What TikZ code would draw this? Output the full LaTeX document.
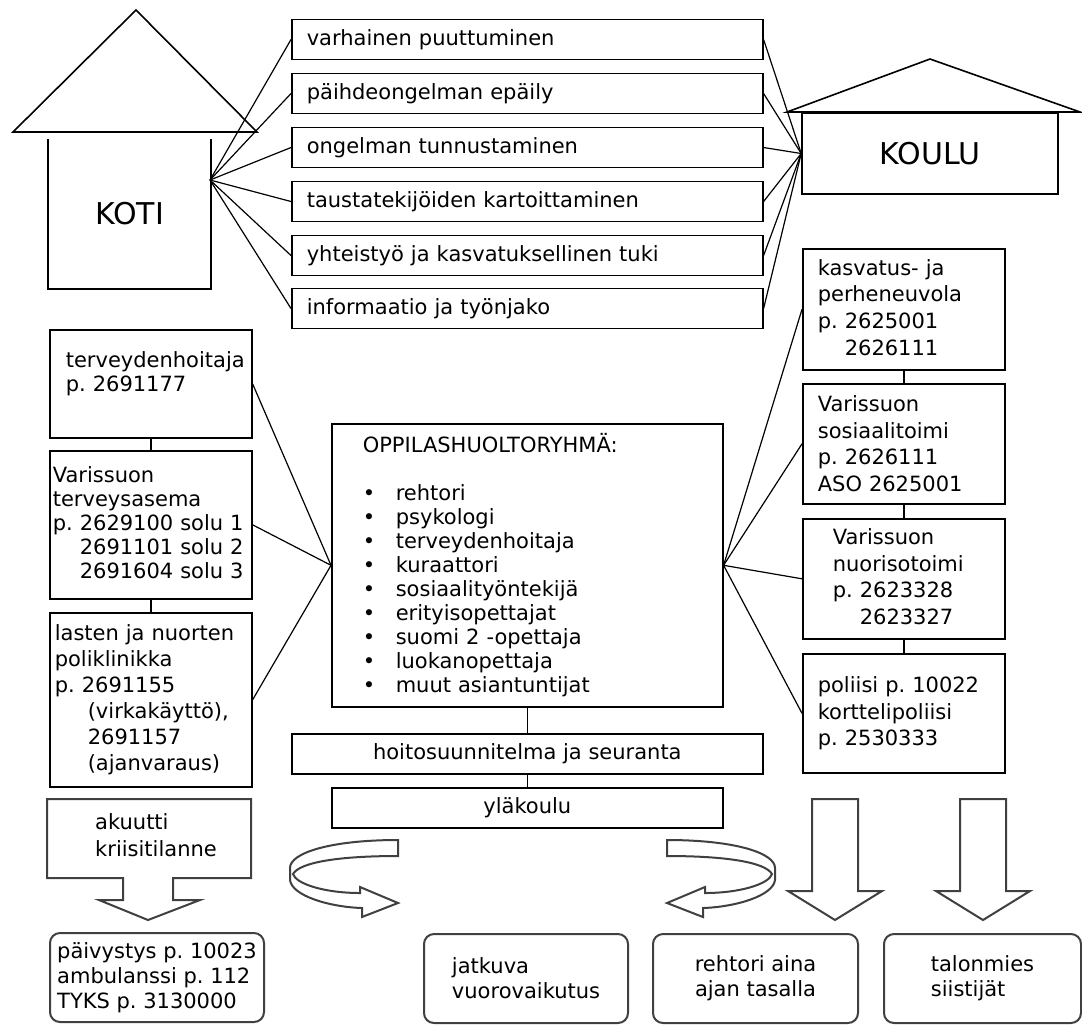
\documentclass[tikz,border=0pt]{standalone}
\usepackage{fontspec}
\setmainfont{DejaVu Sans}
\frenchspacing

\begin{document}
\begin{tikzpicture}[x=0.5pt,y=-0.5pt,line width=0.8pt,font=\fontsize{10.5}{12}\selectfont]
    \tikzstyle{box}=[rectangle,draw=black,inner ysep=0pt,align=left]
    \tikzstyle{wire}=[line width=0.6pt]
    \tikzstyle{soft}=[rectangle,rounded corners=5pt,draw=black!75,line width=1pt,minimum height=44.5pt,align=left,anchor=north west,font=\fontsize{10.5}{12.5}\selectfont]
    \tikzstyle{block}=[draw=black!75,line width=1pt,fill=white]
    \tikzstyle{big}=[font=\fontsize{15}{18}\selectfont]

    \useasboundingbox[fill=white] (0,0) rectangle (1082,1025);

    \draw (13,132) -- (136,10) -- (257,132) -- cycle;
    \node[big,minimum width=80.5pt,minimum height=74pt] (koti) at (129.5,214) {KOTI};
    \draw (koti.north west) -- (koti.south west) -- (koti.south east) -- (koti.north east);
    \coordinate (kotihub) at (210,180);

    \draw (787,112) -- (930,59) -- (1080,112) -- cycle;
    \node[box,big,minimum width=128pt,minimum height=40.5pt] (koulu) at (930,153.5) {KOULU};

    \foreach \num/\y/\txt in {1/39.5/varhainen puuttuminen, 2/93.5/päihdeongelman epäily,
                              3/147.5/ongelman tunnustaminen, 4/201.5/taustatekijöiden kartoittaminen,
                              5/255.5/yhteistyö ja kasvatuksellinen tuki, 6/308.5/informaatio ja työnjako}
        \node[box,anchor=west,text width=220.5pt,inner xsep=7.5pt,minimum height=20pt] (teht-\num) at (291,\y) {\txt};

    \foreach \num in {1,...,6}
        \draw[wire] (kotihub) -- (teht-\num.west) (teht-\num.east) -- (koulu.west);

    \node[box,anchor=north west,text width=85pt,inner xsep=8pt,minimum height=54pt] (terv) at (49,329)
        {terveydenhoitaja\\p. 2691177\\\mbox{}};
    \node[box,anchor=north west,text width=98pt,inner xsep=1.5pt,minimum height=74pt] (asema) at (49,450)
        {Varissuon\\terveysasema\\p. 2629100 solu 1\\\phantom{p. }2691101 solu 2\\\phantom{p. }2691604 solu 3};
    \node[box,anchor=north west,text width=96pt,inner xsep=2.5pt,minimum height=87pt,font=\fontsize{10.5}{13}\selectfont] (poli) at (49,612)
        {lasten ja nuorten\\poliklinikka\\p. 2691155\\\hspace*{16.5pt}(virkakäyttö),\\\hspace*{16.5pt}2691157\\\hspace*{16.5pt}(ajanvaraus)};
    \draw (terv.south) -- (asema.north);
    \draw (asema.south) -- (poli.north);

    \node[box,anchor=north west,text width=86pt,inner xsep=7.5pt,minimum height=60.5pt,font=\fontsize{10.5}{13.3}\selectfont] (kasv) at (802,248)
        {kasvatus- ja\\perheneuvola\\p. 2625001\\\phantom{p. }2626111};
    \node[box,anchor=north west,text width=86pt,inner xsep=7.5pt,minimum height=60pt,font=\fontsize{10.5}{13.3}\selectfont] (sosi) at (802,383)
        {Varissuon\\sosiaalitoimi\\p. 2626111\\ASO 2625001};
    \node[box,anchor=north west,text width=71pt,inner xsep=15pt,minimum height=60pt,font=\fontsize{10.5}{13.3}\selectfont] (nuor) at (802,518)
        {Varissuon\\nuorisotoimi\\p. 2623328\\\phantom{p. }2623327};
    \node[box,anchor=north west,text width=86pt,inner xsep=7.5pt,minimum height=59.5pt,font=\fontsize{10.5}{13.3}\selectfont] (pol) at (802,653)
        {poliisi p. 10022\\korttelipoliisi\\p. 2530333};
    \draw (kasv.south) -- (sosi.north);
    \draw (sosi.south) -- (nuor.north);
    \draw (nuor.south) -- (pol.north);

    \node[box,anchor=north west,text width=164.5pt,inner xsep=15.5pt,minimum height=141.5pt] (oppi) at (331,423)
        {OPPILASHUOLTORYHMÄ:\\\mbox{}\\
         \makebox[16.5pt][l]{\textbullet}rehtori\\
         \makebox[16.5pt][l]{\textbullet}psykologi\\
         \makebox[16.5pt][l]{\textbullet}terveydenhoitaja\\
         \makebox[16.5pt][l]{\textbullet}kuraattori\\
         \makebox[16.5pt][l]{\textbullet}sosiaalityöntekijä\\
         \makebox[16.5pt][l]{\textbullet}erityisopettajat\\
         \makebox[16.5pt][l]{\textbullet}suomi 2 -opettaja\\
         \makebox[16.5pt][l]{\textbullet}luokanopettaja\\
         \makebox[16.5pt][l]{\textbullet}muut asiantuntijat};
    \node[box,anchor=north west,align=center,minimum width=235.5pt,minimum height=20pt] (hoito) at (291,733) {hoitosuunnitelma ja seuranta};
    \node[box,anchor=north west,align=center,minimum width=195.5pt,minimum height=20pt] (yla) at (331,787) {yläkoulu};
    \draw (oppi.south) -- (hoito.north);
    \draw (hoito.south) -- (yla.north);

    \foreach \n in {terv,asema,poli}
        \draw[wire] (\n.east) -- (oppi.west);
    \foreach \n in {kasv,sosi,nuor,pol}
        \draw[wire] (oppi.east) -- (\n.west);

    \draw[block] (47,799) -- (251,799) -- (251,878) -- (173,878) -- (173,900) -- (200,900) -- (148,920)
        -- (99,900) -- (123,900) -- (123,878) -- (47,878) -- cycle;
    \node[align=left,font=\fontsize{10.5}{13.5}\selectfont] (akuutti) at (156,835) {akuutti\\kriisitilanne};

    \foreach \s in {1,-1}
        \draw[block,shift={(532.5,0)},xscale=\s,shift={(-532.5,0)}]
            (398,840) .. controls (330,840) and (290,853) .. (290,868) -- (290,880)
            .. controls (292,896) and (330,907) .. (362,908) -- (362,917) -- (398,903) -- (360,887) -- (360,893)
            .. controls (325,893) and (296,884) .. (293,874) .. controls (300,862) and (340,856) .. (398,856) -- cycle;

    \foreach \x in {835,983}
        \draw[block] ({\x-23},799) -- ({\x+23},799) -- ({\x+23},891) -- ({\x+47},891) -- (\x,920)
            -- ({\x-47},891) -- ({\x-23},891) -- cycle;

    \node[soft,minimum width=107pt] (paiv) at (49,932) {päivystys p. 10023\\ambulanssi p. 112\\TYKS p. 3130000};
    \node[soft,minimum width=102pt] (jatk) at (423,933) {jatkuva\\vuorovaikutus};
    \node[soft,align=center,minimum width=102.5pt] (reht) at (652,933) {rehtori aina\\ajan tasalla};
    \node[soft,minimum width=98.5pt] (talo) at (883,933) {talonmies\\siistijät};
\end{tikzpicture}
\end{document}
